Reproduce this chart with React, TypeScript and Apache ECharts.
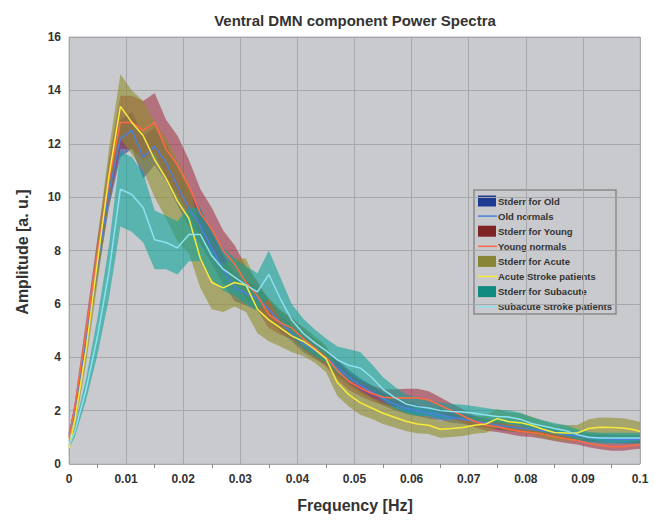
import React, { useEffect, useRef } from "react";
import * as echarts from "echarts";

const freqs = [
  0, 0.001, 0.003, 0.005, 0.007, 0.009, 0.011, 0.013, 0.015, 0.017, 0.019,
  0.021, 0.023, 0.025, 0.027, 0.029, 0.031, 0.033, 0.035, 0.037, 0.039,
  0.041, 0.043, 0.045, 0.047, 0.049, 0.051, 0.053, 0.055, 0.057, 0.059,
  0.061, 0.063, 0.065, 0.067, 0.069, 0.071, 0.073, 0.075, 0.077, 0.079,
  0.081, 0.083, 0.085, 0.087, 0.089, 0.091, 0.093, 0.095, 0.097, 0.099, 0.1,
];

const oldMean = [
  1.1, 2.0, 4.7, 7.5, 10.2, 12.2, 12.5, 11.5, 11.9, 11.3, 10.4,
  9.6, 8.9, 8.1, 7.3, 6.6, 6.4, 6.2, 5.8, 5.3, 4.9,
  4.5, 4.25, 4.0, 3.6, 3.25, 2.95, 2.7, 2.45, 2.25, 2.1,
  2.0, 1.9, 1.85, 1.75, 1.68, 1.6, 1.55, 1.45, 1.4, 1.35,
  1.3, 1.25, 1.18, 1.1, 1.05, 1.0, 0.97, 0.95, 0.93, 0.93, 0.93,
];
const oldErr = [
  0.1, 0.2, 0.3, 0.5, 0.6, 0.7, 0.7, 0.8, 0.7, 0.7, 0.7,
  0.7, 0.65, 0.6, 0.55, 0.5, 0.45, 0.45, 0.4, 0.35, 0.3,
  0.3, 0.3, 0.3, 0.3, 0.28, 0.26, 0.25, 0.25, 0.24, 0.22,
  0.2, 0.2, 0.2, 0.2, 0.18, 0.18, 0.18, 0.17, 0.17, 0.16,
  0.16, 0.16, 0.15, 0.15, 0.15, 0.15, 0.15, 0.15, 0.15, 0.15, 0.15,
];

const youngMean = [
  1.0, 2.1, 5.0, 7.9, 10.6, 12.8, 12.8, 12.5, 12.8, 11.8, 11.2,
  10.4, 9.4, 8.8, 8.0, 7.5, 6.8, 6.3, 5.6, 5.3, 5.1,
  4.7, 4.35, 4.0, 3.5, 3.1, 2.85, 2.65, 2.5, 2.47, 2.48,
  2.47, 2.4, 2.2, 2.0, 1.8, 1.6, 1.45, 1.4, 1.3, 1.22,
  1.18, 1.12, 1.02, 0.95, 0.88, 0.78, 0.7, 0.65, 0.65, 0.7, 0.72,
];
const youngErr = [
  0.1, 0.2, 0.4, 0.6, 0.8, 1.0, 1.0, 1.1, 1.1, 1.1, 1.1,
  1.0, 0.9, 0.8, 0.75, 0.7, 0.6, 0.55, 0.5, 0.45, 0.4,
  0.38, 0.35, 0.35, 0.35, 0.33, 0.3, 0.3, 0.3, 0.32, 0.34,
  0.35, 0.33, 0.3, 0.27, 0.25, 0.22, 0.2, 0.2, 0.18, 0.18,
  0.17, 0.17, 0.16, 0.16, 0.15, 0.15, 0.15, 0.15, 0.15, 0.15, 0.15,
];

const acuteMean = [
  0.6, 1.6, 4.3, 7.6, 10.8, 13.4, 12.8, 12.3, 11.4, 10.7, 9.85,
  9.2, 7.7, 6.8, 6.6, 6.8, 6.7, 5.8, 5.4, 5.1, 4.8,
  4.6, 4.3, 3.95, 3.05, 2.6, 2.3, 2.1, 1.9, 1.75, 1.6,
  1.5, 1.45, 1.3, 1.33, 1.37, 1.45, 1.5, 1.7, 1.58, 1.55,
  1.45, 1.3, 1.18, 1.16, 1.16, 1.33, 1.38, 1.37, 1.35, 1.28, 1.22,
];
const acuteErr = [
  0.1, 0.3, 0.5, 0.8, 1.0, 1.2, 1.2, 1.3, 1.4, 1.5, 1.5,
  1.3, 1.1, 1.0, 0.9, 0.9, 1.0, 0.9, 0.8, 0.7, 0.6,
  0.55, 0.5, 0.5, 0.5, 0.45, 0.45, 0.4, 0.4, 0.38, 0.36,
  0.35, 0.33, 0.32, 0.32, 0.32, 0.32, 0.33, 0.35, 0.35, 0.35,
  0.33, 0.32, 0.3, 0.3, 0.3, 0.35, 0.36, 0.36, 0.36, 0.35, 0.35,
];

const subMean = [
  0.7, 1.2, 2.8, 4.8, 7.2, 10.3, 10.1, 9.6, 8.4, 8.3, 8.1,
  8.6, 8.6, 7.8, 7.3, 7.0, 6.7, 6.45, 7.1, 6.2, 5.4,
  4.9, 4.55, 4.25, 3.9, 3.7, 3.6, 3.25, 2.8, 2.5, 2.25,
  2.15, 2.1, 2.0, 1.97, 1.95, 1.9, 1.84, 1.78, 1.76, 1.68,
  1.52, 1.42, 1.33, 1.25, 1.1, 1.0, 0.97, 0.97, 0.97, 0.97, 0.97,
];
const subErr = [
  0.1, 0.2, 0.4, 0.7, 1.0, 1.4, 1.4, 1.3, 1.1, 1.0, 1.0,
  1.0, 1.0, 0.9, 0.8, 0.7, 0.7, 0.7, 0.9, 0.8, 0.6,
  0.55, 0.5, 0.45, 0.5, 0.6, 0.6, 0.5, 0.45, 0.4, 0.35,
  0.35, 0.3, 0.3, 0.28, 0.27, 0.26, 0.26, 0.25, 0.25, 0.24,
  0.23, 0.22, 0.21, 0.2, 0.2, 0.2, 0.2, 0.2, 0.2, 0.2, 0.2,
];

const legendLabels = [
  "Stderr for Old",
  "Old normals",
  "Stderr for Young",
  "Young normals",
  "Stderr for Acute",
  "Acute Stroke patients",
  "Stderr for Subacute",
  "Subacute Stroke patients",
];

const groups = [
  { key: "old", mean: oldMean, err: oldErr, band: "#23409a", bandOp: 0.55, line: "#4d7fdc", patch: "#1c3a8f" },
  { key: "young", mean: youngMean, err: youngErr, band: "#a0263c", bandOp: 0.55, line: "#ff6a45", patch: "#7e2326" },
  { key: "acute", mean: acuteMean, err: acuteErr, band: "#8f8c2a", bandOp: 0.6, line: "#f8ea3c", patch: "#868636" },
  { key: "sub", mean: subMean, err: subErr, band: "#0fa39a", bandOp: 0.6, line: "#8fe0f0", patch: "#118a80" },
];

const FONT = "'Liberation Sans', Arial, sans-serif";

export default function App() {
  const ref = useRef<HTMLDivElement>(null);
  useEffect(() => {
    if (!ref.current) return;
    const chart = echarts.init(ref.current, undefined, { renderer: "svg" });

    const series: any[] = [];
    groups.forEach((g) => {
      series.push({
        type: "custom",
        silent: true,
        data: [[freqs[0], g.mean[0]]],
        encode: { x: 0, y: 1 },
        renderItem: (params: any, api: any) => {
          const upper = freqs.map((f, i) => api.coord([f, g.mean[i] + g.err[i]]));
          const lower = freqs.map((f, i) => api.coord([f, g.mean[i] - g.err[i]])).reverse();
          return {
            type: "polygon",
            shape: { points: upper.concat(lower) },
            style: { fill: g.band, opacity: g.bandOp },
          };
        },
      });
    });
    groups.forEach((g) => {
      series.push({
        type: "line",
        symbol: "none",
        silent: true,
        lineStyle: { color: g.line, width: 1.5 },
        data: freqs.map((f, i) => [f, g.mean[i]]),
      });
    });

    const lx = 474, ly = 190, rowH = 15.1;
    const legendEls: any[] = [
      {
        type: "rect",
        shape: { x: lx, y: ly, width: 142, height: 124 },
        style: { fill: "#c9cacd", stroke: "#8a8a8a", lineWidth: 1.5 },
      },
    ];
    legendLabels.forEach((lab, i) => {
      const cy = ly + 11 + i * rowH;
      const g = groups[Math.floor(i / 2)];
      if (i % 2 === 0) {
        legendEls.push({
          type: "rect",
          shape: { x: lx + 4, y: cy - 5.5, width: 18, height: 11 },
          style: { fill: g.patch },
        });
      } else {
        legendEls.push({
          type: "line",
          shape: { x1: lx + 4, y1: cy, x2: lx + 23, y2: cy },
          style: { stroke: g.line, lineWidth: 1.5 },
        });
      }
      legendEls.push({
        type: "text",
        x: lx + 24,
        y: cy,
        style: {
          text: lab,
          fill: "#333",
          font: `bold 9.5px ${FONT}`,
          textVerticalAlign: "middle",
        },
      });
    });

    chart.setOption({
      animation: false,
      backgroundColor: "#ffffff",
      grid: {
        left: 69,
        right: 14,
        top: 37,
        bottom: 57,
        show: true,
        backgroundColor: "#c9cacd",
        borderColor: "#b5b6b8",
        borderWidth: 1,
      },
      xAxis: {
        type: "value",
        min: 0,
        max: 0.1,
        interval: 0.01,
        axisLine: { show: false },
        axisTick: { show: false },
        minorTick: { show: true, splitNumber: 2, length: 4, lineStyle: { color: "#888" } },
        splitLine: { show: true, lineStyle: { color: "#a7a8ab", width: 1 } },
        axisLabel: {
          margin: 9,
          color: "#333",
          fontFamily: FONT,
          fontWeight: "bold",
          fontSize: 12,
          formatter: (v: number) => (v === 0 ? "0" : String(parseFloat(v.toFixed(3)))),
        },
      },
      yAxis: {
        type: "value",
        min: 0,
        max: 16,
        interval: 2,
        axisLine: { show: false },
        axisTick: { show: false },
        splitLine: { show: true, lineStyle: { color: "#a7a8ab", width: 1 } },
        axisLabel: {
          margin: 8,
          color: "#333",
          fontFamily: FONT,
          fontWeight: "bold",
          fontSize: 12,
        },
      },
      graphic: [
        {
          type: "text",
          x: 355,
          y: 20,
          style: {
            text: "Ventral DMN component Power Spectra",
            fill: "#333",
            font: `bold 15px ${FONT}`,
            textAlign: "center",
            textVerticalAlign: "middle",
          },
        },
        {
          type: "text",
          x: 355,
          y: 505,
          style: {
            text: "Frequency [Hz]",
            fill: "#333",
            font: `bold 16px ${FONT}`,
            textAlign: "center",
            textVerticalAlign: "middle",
          },
        },
        {
          type: "text",
          x: 22,
          y: 252,
          rotation: Math.PI / 2,
          style: {
            text: "Amplitude [a. u.]",
            fill: "#333",
            font: `bold 16px ${FONT}`,
            textAlign: "center",
            textVerticalAlign: "middle",
          },
        },
        ...legendEls,
      ],
      series,
    });
    return () => chart.dispose();
  }, []);
  return (
    <div
      ref={ref}
      style={{ position: "fixed", left: 0, top: 0, width: 654, height: 521 }}
    />
  );
}
